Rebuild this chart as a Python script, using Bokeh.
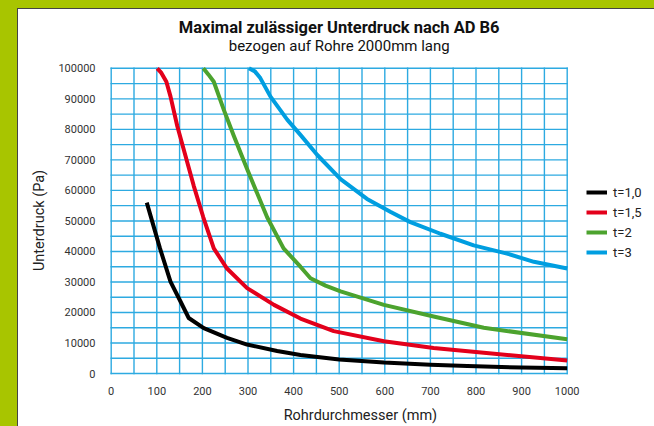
from bokeh.plotting import figure
from bokeh.models import (Range1d, FixedTicker, Legend, LegendItem, Label, Div)
from bokeh.layouts import row, column
from bokeh.embed import file_html
from bokeh.resources import INLINE

# ---- data ----
d_t10 = [78, 107, 130, 152, 170, 203, 254, 298, 364, 415, 500, 598, 700, 781, 900, 1000]
p_t10 = [56000, 41000, 30100, 23600, 18200, 14900, 11700, 9500, 7400, 6100, 4600, 3600, 2900, 2500, 1950, 1700]

d_t15 = [101, 110, 121, 130, 145, 163, 181, 202, 225, 254, 298, 357, 415, 488, 598, 707, 817, 1000]
p_t15 = [100000, 98500, 95600, 90800, 81000, 71300, 61500, 51200, 41000, 34400, 28000, 22500,
         18000, 13900, 10600, 8400, 6800, 4300]

d_t2 = [202, 213, 225, 247, 269, 298, 342, 378, 415, 437, 470, 503, 598, 707, 817, 1000]
p_t2 = [100000, 98000, 95600, 86400, 77800, 67000, 51200, 41000, 35000, 31200, 28800, 26900,
        22500, 18700, 15000, 11200]

d_t3 = [302, 315, 327, 349, 386, 415, 452, 503, 561, 613, 656, 722, 795, 868, 927, 1000]
p_t3 = [100000, 99000, 96800, 90800, 83200, 78200, 71600, 63700, 57200, 52900, 49600, 45800,
        42000, 39300, 36600, 34400]

series_names = ["t=1,0", "t=1,5", "t=2", "t=3"]
series_colors = ["#000000", "#E3001B", "#4CA32E", "#009EE0"]

x_ticks = list(range(0, 1001, 100))
x_tick_labels = [str(v) for v in x_ticks]
y_ticks = list(range(0, 100001, 10000))
y_tick_labels = [str(v) for v in y_ticks]
x_grid = list(range(0, 1001, 50))
y_grid = list(range(0, 100001, 5000))
x_min, x_max = 0, 1000
y_min, y_max = 0, 100000

title_text = "Maximal zulässiger Unterdruck nach AD B6"
subtitle_text = "bezogen auf Rohre 2000mm lang"
x_label = "Rohrdurchmesser (mm)"
y_label = "Unterdruck (Pa)"

FONT = "Roboto"
GRID = "#2DAAE1"
GREEN = "#A8C500"
EDGE = "#444444"
NBSP = "\u00a0"

# ---- layout geometry (pixels) ----
W, H = 654, 426
STRIP_W, BAND_H = 18, 9
FIG_W, FIG_H = W - STRIP_W, H - BAND_H
X0_PX, X1_PX = 110.7, 566.7          # page x of x=0 and x=1000
Y1_PX, Y0_PX = 68.3, 376.0           # page y of y=100000 and y=0
BORDER_LEFT, BORDER_BOTTOM = 91, 46
frame_left_px = STRIP_W + BORDER_LEFT
frame_bottom_px = H - BORDER_BOTTOM
ux = (x_max - x_min) / (X1_PX - X0_PX)
uy = (y_max - y_min) / (Y0_PX - Y1_PX)
xr = Range1d(x_min - (X0_PX - frame_left_px) * ux, x_min + (W - X0_PX) * ux)
yr = Range1d(y_min - (frame_bottom_px - Y0_PX) * uy, y_min + (Y0_PX - BAND_H) * uy)


def y_at(px):
    return y_min + (Y0_PX - px) * uy


p = figure(width=FIG_W, height=FIG_H, output_backend="svg", toolbar_location=None,
           x_range=xr, y_range=yr,
           min_border_left=BORDER_LEFT, min_border_right=0, min_border_top=0,
           min_border_bottom=BORDER_BOTTOM,
           background_fill_color="white", border_fill_color="white",
           outline_line_color=None)
p.margin = 0
p.xgrid.grid_line_color = None
p.ygrid.grid_line_color = None

# grid (every 50 mm / 5000 Pa)
p.segment(x0=x_grid, x1=x_grid, y0=[y_min] * len(x_grid), y1=[y_max] * len(x_grid),
          line_color=GRID, line_width=1.4, line_cap="square")
p.segment(x0=[x_min] * len(y_grid), x1=[x_max] * len(y_grid), y0=y_grid, y1=y_grid,
          line_color=GRID, line_width=1.4, line_cap="square")

# titles
p.add_layout(Label(x=(x_min + x_max) / 2, y=y_at(27.5), text=title_text, text_font=FONT,
                   text_font_size="16.5px", text_font_style="bold", text_color="#111111",
                   text_align="center", text_baseline="middle"))
p.add_layout(Label(x=(x_min + x_max) / 2, y=y_at(45.5), text=subtitle_text, text_font=FONT,
                   text_font_size="15px", text_color="#111111",
                   text_align="center", text_baseline="middle"))

for ax in (p.xaxis[0], p.yaxis[0]):
    ax.axis_line_color = None
    ax.major_tick_line_color = None
    ax.minor_tick_line_color = None
    ax.major_label_text_font = FONT
    ax.major_label_text_font_size = "11px"
    ax.major_label_text_color = "#333333"
    ax.axis_label_text_font = FONT
    ax.axis_label_text_font_size = "14.5px"
    ax.axis_label_text_font_style = "normal"
    ax.axis_label_text_color = "#222222"

p.xaxis.ticker = FixedTicker(ticks=x_ticks)
p.yaxis.ticker = FixedTicker(ticks=y_ticks)
p.xaxis.bounds = (x_min, x_max)
p.yaxis.bounds = (y_min, y_max)
p.xaxis.major_label_overrides = dict(zip(x_ticks, x_tick_labels))
p.yaxis.major_label_overrides = dict(zip(y_ticks, y_tick_labels))
# axis labels are centred on the (wider) frame; trailing no-break spaces shift them
p.xaxis.axis_label = x_label + NBSP * 12
p.yaxis.axis_label = y_label + NBSP * 15
p.xaxis.major_label_standoff = 3
p.yaxis.major_label_standoff = 8
p.xaxis.axis_label_standoff = 9
p.yaxis.axis_label_standoff = 7

xs = [d_t10, d_t15, d_t2, d_t3]
ys = [p_t10, p_t15, p_t2, p_t3]
items = []
for xv, yv, name, col in zip(xs, ys, series_names, series_colors):
    r = p.line(xv, yv, line_color=col, line_width=4, line_join="round", line_cap="butt")
    items.append(LegendItem(label=name, renderers=[r]))

legend = Legend(items=items, location=(477, 115), padding=0, margin=0, spacing=0,
                glyph_width=21, glyph_height=20, label_height=20, label_standoff=6,
                label_text_font=FONT, label_text_font_size="13px", label_text_color="#222222",
                border_line_color=None, background_fill_alpha=0)
p.add_layout(legend, "center")

top_band = Div(text="", width=W, height=BAND_H, margin=0,
               styles={"background": f"linear-gradient(to right, {GREEN} 0px, {GREEN} 17px, "
                                     f"transparent 17px), linear-gradient(to bottom, {GREEN} 0px, "
                                     f"{GREEN} 8px, {EDGE} 8px, {EDGE} 9px)",
                       "overflow": "hidden"})
left_strip = Div(text="", width=STRIP_W, height=FIG_H, margin=0,
                 styles={"background": f"linear-gradient(to right, {GREEN} 0px, {GREEN} 17px, "
                                       f"{EDGE} 17px, {EDGE} 18px)",
                         "overflow": "hidden"})

layout = column(top_band, row(left_strip, p, spacing=0, margin=0), spacing=0, margin=0)

open("out.html", "w").write(file_html(layout, INLINE))
